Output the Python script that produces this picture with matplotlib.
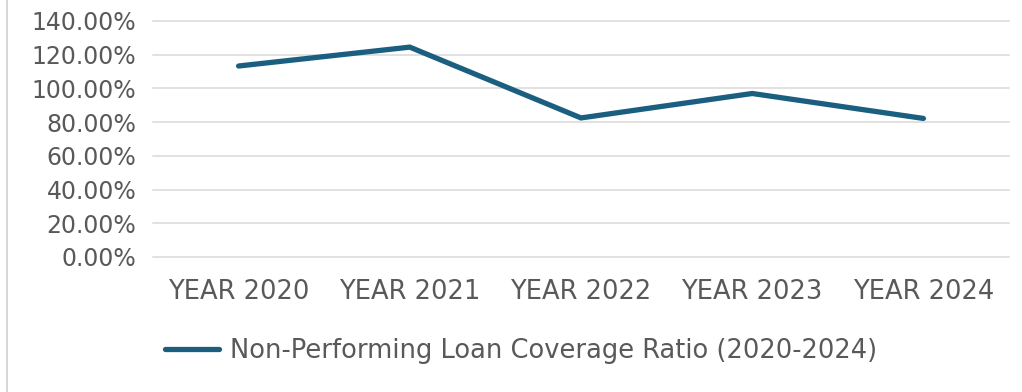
import matplotlib
matplotlib.use("Agg")
import matplotlib.pyplot as plt
from matplotlib.ticker import FuncFormatter
from matplotlib.lines import Line2D

categories = ["YEAR 2020", "YEAR 2021", "YEAR 2022", "YEAR 2023", "YEAR 2024"]
coverage_ratio = [113.3, 124.5, 82.5, 97.0, 82.2]
series_label = "Non-Performing Loan Coverage Ratio (2020-2024)"
y_ticks = [0, 20, 40, 60, 80, 100, 120, 140]

text_color = "#595959"
line_color = "#1b5f80"
grid_color = "#d9d9d9"
font = "DejaVu Sans"

fig = plt.figure(figsize=(10.22, 3.92), dpi=100)
ax = fig.add_axes([153/1022, 1 - 257/392, (1009 - 153)/1022, (257 - 21)/392])

x = list(range(len(categories)))
ax.plot(x, coverage_ratio, color=line_color, linewidth=3.8, solid_capstyle="round",
        solid_joinstyle="miter", label=series_label)

ax.set_xlim(-0.5, len(categories) - 0.5)
ax.set_ylim(0, 140)
ax.set_yticks(y_ticks)
ax.yaxis.set_major_formatter(FuncFormatter(lambda v, p: f"{v:.2f}%"))
ax.set_xticks(x)
ax.set_xticklabels(categories)

ax.grid(axis="y", color=grid_color, linewidth=1.1)
for gl in ax.get_ygridlines():
    gl.set_clip_on(False)
ax.set_axisbelow(True)
for s in ax.spines.values():
    s.set_visible(False)
ax.tick_params(axis="both", length=0, colors=text_color)
ax.tick_params(axis="y", pad=12, labelsize=17)
ax.tick_params(axis="x", pad=16, labelsize=18.5)
for lbl in ax.get_xticklabels() + ax.get_yticklabels():
    lbl.set_fontfamily(font)

handle = Line2D([0], [0], color=line_color, linewidth=3.8, solid_capstyle="round")
leg = fig.legend([handle], [series_label], loc="center",
                 bbox_to_anchor=(521/1022, 1 - 351/392), frameon=False,
                 handlelength=2.1, handletextpad=0.45,
                 prop={"family": font, "size": 18.5})
for t in leg.get_texts():
    t.set_color(text_color)

fig.add_artist(Line2D([6.5/1022, 6.5/1022], [0, 1], color="#d0d0d0", linewidth=1.2,
                      transform=fig.transFigure))

fig.savefig("out.png", dpi=100, facecolor="white")
